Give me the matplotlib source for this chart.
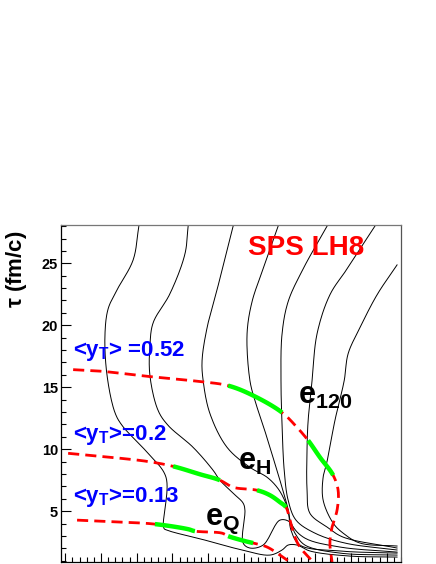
import matplotlib
matplotlib.use("Agg")
import numpy as np
import matplotlib.pyplot as plt
from matplotlib.ticker import MultipleLocator, NullFormatter

plt.rcParams['font.family'] = ['Liberation Sans', 'DejaVu Sans']
plt.rcParams['mathtext.fontset'] = 'custom'
plt.rcParams['mathtext.rm'] = 'Liberation Sans:bold'
plt.rcParams['mathtext.it'] = 'Liberation Sans:bold'
plt.rcParams['mathtext.bf'] = 'Liberation Sans:bold'

# ---------------- data ----------------
# thin black contour lines (x in axis units, tau in fm/c)
cA_x = [2.06, 1.90, 1.45, 1.20, 1.11, 1.17, 1.39, 1.59, 2.29, 2.82, 2.76, 2.85, 3.91, 4.95, 5.73, 6.07, 6.24, 6.49, 6.85, 7.97, 9.29]
cA_y = [28.0, 25.27, 22.86, 21.33, 19.16, 15.94, 12.96, 11.92, 9.75, 7.74, 3.63, 3.47, 2.67, 1.87, 1.46, 1.87, 2.27, 2.27, 1.79, 1.38, 1.30]
cB_x = [3.44, 3.35, 2.93, 2.46, 2.37, 2.37, 2.60, 2.88, 3.58, 4.14, 4.33, 4.70, 4.98, 5.03, 4.98, 5.17, 5.54, 6.01, 6.29, 6.43, 6.71, 7.69, 9.29]
cB_y = [28.0, 25.75, 22.54, 20.20, 18.35, 15.94, 13.12, 11.92, 10.15, 8.30, 7.50, 6.45, 5.65, 5.08, 2.43, 2.03, 2.27, 4.28, 4.12, 3.23, 2.27, 1.62, 1.46]
cC_x = [4.70, 4.33, 3.97, 3.83, 3.86, 4.05, 4.53, 5.17, 5.65, 5.93, 6.10, 6.24, 6.32, 6.57, 7.69, 9.29]
cC_y = [28.0, 23.75, 19.80, 17.15, 15.54, 12.88, 10.15, 8.54, 7.74, 6.93, 6.13, 5.08, 3.47, 2.27, 1.79, 1.62]
cD_x = [5.96, 5.54, 5.23, 5.09, 5.17, 5.31, 5.54, 5.79, 6.01, 6.21, 6.35, 6.71, 7.69, 9.29]
cD_y = [28.0, 24.55, 21.91, 19.32, 15.54, 13.93, 11.92, 9.59, 7.50, 5.49, 3.88, 2.83, 2.11, 1.70]
cE_x = [7.33, 6.66, 6.24, 6.07, 6.04, 6.07, 6.13, 6.24, 6.46, 6.99, 7.83, 9.29]
cE_y = [28.0, 24.55, 21.91, 19.32, 15.54, 11.92, 8.30, 5.89, 4.28, 3.23, 2.43, 1.87]
cF_x = [8.67, 7.89, 7.41, 7.05, 6.91, 6.80, 6.77, 6.77, 6.85, 7.33, 7.78, 9.29]
cF_y = [28.0, 24.55, 22.46, 19.32, 15.54, 12.32, 10.15, 6.69, 4.83, 3.72, 2.91, 2.03]
cG_x = [9.29, 8.73, 8.25, 7.92, 7.81, 7.55, 7.33, 7.22, 7.22, 7.50, 7.78, 8.25, 9.29]
cG_y = [24.87, 22.46, 19.80, 17.71, 15.54, 12.32, 9.02, 7.74, 5.89, 4.04, 3.23, 2.43, 2.19]

# red dashed curves
r1_x = [0.22, 0.97, 2.37, 3.77, 4.56, 5.26, 6.07, 6.49, 6.80, 7.13, 7.50, 7.64, 7.61, 7.47, 7.41, 7.47]
r1_y = [16.42, 16.30, 15.86, 15.46, 15.13, 14.33, 12.96, 11.76, 10.71, 9.35, 7.90, 6.69, 5.08, 3.72, 2.43, 0.90]
r2_x = [0.08, 0.97, 2.29, 3.02, 3.77, 4.33, 4.70, 5.37, 5.73, 6.01, 6.18, 6.29, 6.43, 6.57, 6.94]
r2_y = [9.67, 9.43, 9.02, 8.62, 7.98, 7.50, 6.93, 6.69, 6.29, 5.73, 5.32, 4.28, 2.91, 2.11, 0.90]
r3_x = [0.33, 1.59, 2.51, 3.44, 3.63, 4.39, 4.56, 5.03, 5.26, 5.65, 6.29]
r3_y = [4.28, 4.12, 3.96, 3.55, 3.39, 3.23, 2.99, 2.59, 2.43, 2.11, 0.90]

# green solid parts: (first point index, last point index) along each red curve
g1_parts = [(4, 6), (8, 10)]
g2_parts = [(3, 5), (7, 10)]
g3_parts = [(2, 4), (6, 8)]

contours = [(cA_x, cA_y), (cB_x, cB_y), (cC_x, cC_y), (cD_x, cD_y),
            (cE_x, cE_y), (cF_x, cF_y), (cG_x, cG_y)]
reds = [(r1_x, r1_y, g1_parts), (r2_x, r2_y, g2_parts), (r3_x, r3_y, g3_parts)]

y_major = [5, 10, 15, 20, 25]


def smooth(xs, ys, n=16, alpha=0.5):
    """Centripetal Catmull-Rom drawn through the given points (in screen-like
    scaled units so that x and y steps are comparable)."""
    sc = np.array([35.7, 12.435])
    p = np.column_stack([xs, ys]).astype(float) * sc
    p_ext = np.vstack([2 * p[0] - p[1], p, 2 * p[-1] - p[-2]])
    out = [p[0]]
    idx = [0]
    for i in range(1, len(p_ext) - 2):
        P0, P1, P2, P3 = p_ext[i - 1], p_ext[i], p_ext[i + 1], p_ext[i + 2]
        t0 = 0.0
        t1 = t0 + max(np.linalg.norm(P1 - P0), 1e-6) ** alpha
        t2 = t1 + max(np.linalg.norm(P2 - P1), 1e-6) ** alpha
        t3 = t2 + max(np.linalg.norm(P3 - P2), 1e-6) ** alpha
        for t in np.linspace(t1, t2, n + 1)[1:]:
            A1 = (t1 - t) / (t1 - t0) * P0 + (t - t0) / (t1 - t0) * P1
            A2 = (t2 - t) / (t2 - t1) * P1 + (t - t1) / (t2 - t1) * P2
            A3 = (t3 - t) / (t3 - t2) * P2 + (t - t2) / (t3 - t2) * P3
            B1 = (t2 - t) / (t2 - t0) * A1 + (t - t0) / (t2 - t0) * A2
            B2 = (t3 - t) / (t3 - t1) * A2 + (t - t1) / (t3 - t1) * A3
            C = (t2 - t) / (t2 - t1) * B1 + (t - t1) / (t2 - t1) * B2
            out.append(C)
        idx.append(len(out) - 1)
    out = np.array(out) / sc
    return out[:, 0], out[:, 1], idx


# ---------------- figure ----------------
fig = plt.figure(figsize=(4.36, 5.64), dpi=100)
ax = fig.add_axes([0.1399, 0.0035, 0.7798, 0.5967])
ax.set_xlim(-0.12, 9.40)
ax.set_ylim(0.9, 28.05)

for cx, cy in contours:
    sx, sy, _ = smooth(cx, cy)
    ax.plot(sx, sy, color='black', lw=0.7)
for rx, ry, parts in reds:
    sx, sy, idx = smooth(rx, ry)
    ax.plot(sx, sy, color='#ff0000', lw=2.0, dashes=(4, 2.2))
    for a, b in parts:
        ax.plot(sx[idx[a]:idx[b] + 1], sy[idx[a]:idx[b] + 1], color='#00ff00',
                lw=3.2, solid_capstyle='butt')

# ticks
ax.xaxis.set_major_locator(MultipleLocator(1))
ax.xaxis.set_minor_locator(MultipleLocator(0.2))
ax.xaxis.set_major_formatter(NullFormatter())
ax.set_yticks(y_major)
ax.yaxis.set_minor_locator(MultipleLocator(1))
ax.tick_params(axis='both', which='both', direction='in', top=False, right=False)
ax.tick_params(axis='x', which='major', length=6.5, width=0.8)
ax.tick_params(axis='x', which='minor', length=3.5, width=0.8)
ax.tick_params(axis='y', which='major', length=7, width=0.8, pad=2)
ax.tick_params(axis='y', which='minor', length=3.5, width=0.8)
for lab in ax.get_yticklabels():
    lab.set_fontweight('bold')
    lab.set_fontsize(10.5)
for s in ax.spines.values():
    s.set_linewidth(0.9)
ax.spines['top'].set_color('#777777')
ax.spines['right'].set_color('#555555')

fig.text(0.037, 0.523, r'$\tau$ (fm/c)', rotation=90, ha='center', va='center',
         fontsize=16, fontweight='bold')

ax.text(6.75, 26.2, 'SPS LH8', color='#ff0000', fontsize=20, fontweight='bold',
        ha='center', va='center')
ax.text(0.22, 17.95, r'<y$_T$> =0.52', color='#0000ff', fontsize=16, fontweight='bold',
        ha='left', va='center')
ax.text(0.22, 11.12, r'<y$_T$>=0.2', color='#0000ff', fontsize=16, fontweight='bold',
        ha='left', va='center')
ax.text(0.22, 6.13, r'<y$_T$>=0.13', color='#0000ff', fontsize=16, fontweight='bold',
        ha='left', va='center')
ax.text(6.52, 13.69, r'e$_{120}$', color='black', fontsize=22, fontweight='bold',
        ha='left', va='baseline')
ax.text(4.84, 8.30, r'e$_H$', color='black', fontsize=22, fontweight='bold',
        ha='left', va='baseline')
ax.text(3.91, 3.88, r'e$_Q$', color='black', fontsize=22, fontweight='bold',
        ha='left', va='baseline')

fig.savefig('out.png', dpi=100)
